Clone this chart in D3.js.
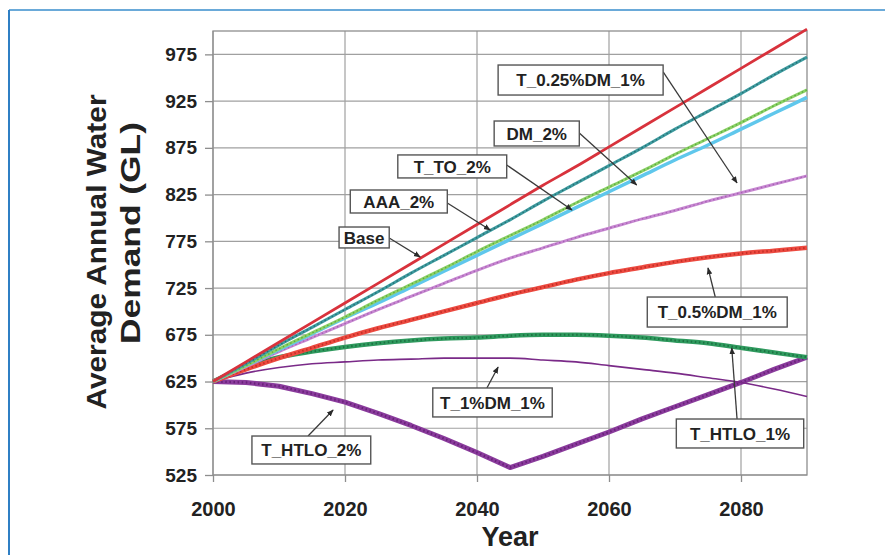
<!DOCTYPE html>
<html>
<head>
<meta charset="utf-8">
<script src="https://cdn.jsdelivr.net/npm/d3@7"></script>
<style>
body { margin: 0; background: #fff; }
svg { display: block; font-family: "Liberation Sans", Arial, sans-serif; }
</style>
</head>
<body>
<div class="chart"></div>
<script>
const WIDTH = 885;
const HEIGHT = 555;
const LEFT = 213, RIGHT = 807, TOP = 31, BOTTOM = 475;

// data (GL per year)
const years = [2000, 2005, 2010, 2015, 2020, 2025, 2030, 2035, 2040, 2045,
               2050, 2055, 2060, 2065, 2070, 2075, 2080, 2085, 2090];

const base     = [625, 646, 667, 688, 709, 730, 751, 772, 793, 814, 835, 855, 876, 897, 918, 939, 960, 981, 1002];
const aaa2     = [625, 644, 664, 683, 702, 721, 741, 760, 779, 798, 818, 837, 856, 875, 895, 914, 933, 953, 972];
const dm2      = [625, 642, 660, 677, 694, 712, 729, 746, 764, 781, 798, 816, 833, 850, 868, 885, 902, 920, 937];
const tTo2     = [625, 642, 659, 676, 693, 709, 726, 743, 760, 777, 794, 811, 828, 845, 862, 878, 895, 912, 929];
const t025dm1  = [625, 641, 657, 672, 687, 702, 716, 730, 744, 757, 768, 779, 789, 799, 808, 818, 827, 836, 845];
const t05dm1   = [625, 638, 650, 661, 672, 682, 691, 700, 709, 718, 726, 734, 741, 747, 753, 758, 762, 765, 768];
const tHtlo1   = [625, 641, 651, 657, 662, 666, 669, 671, 672, 674, 675, 675, 674, 672, 669, 666, 661, 656, 651];
const t1dm1    = [625, 634, 640, 644, 646, 648, 649, 650, 650, 650, 648, 646, 642, 638, 634, 629, 624, 617, 609];
const tHtlo2   = [625, 624, 620, 612, 603, 591, 578, 564, 549, 533, 545, 558, 571, 585, 598, 611, 624, 638, 651];

const yTicks = [525, 575, 625, 675, 725, 775, 825, 875, 925, 975];
const xTicks = [2000, 2020, 2040, 2060, 2080];

// drawing order = back to front
const series = [
	{name: "T_HTLO_2%",     values: tHtlo2,  color: "#8a3b9c", width: 5,   dots: "#5e1a6e", curve: d3.curveLinear},
	{name: "T_1%DM_1%",     values: t1dm1,   color: "#7a2a88", width: 1.6},
	{name: "T_HTLO_1%",     values: tHtlo1,  color: "#2f9a5e", width: 4.5, dots: "#17653a"},
	{name: "T_0.5%DM_1%",   values: t05dm1,  color: "#ec4a40", width: 4.5, dots: "#b8261f"},
	{name: "T_0.25%DM_1%",  values: t025dm1, color: "#c888d2", width: 3,   dots: "#9a55a8"},
	{name: "T_TO_2%",       values: tTo2,    color: "#5fc7ec", width: 3.5},
	{name: "DM_2%",         values: dm2,     color: "#8cd266", width: 3,   dots: "#4a9a36"},
	{name: "AAA_2%",        values: aaa2,    color: "#3e9ca0", width: 3,   dots: "#1d5e62"},
	{name: "Base",          values: base,    color: "#d8323c", width: 2.8}
];

// annotation boxes: box [year0, value0, year1, value1], arrow from / to [year, value]
const notes = [
	{text: "T_0.25%DM_1%", box: [2043.2, 963.6, 2068.2, 931.5], from: [2068.2, 956.2], to: [2079.4, 837.4]},
	{text: "DM_2%",        box: [2042.6, 903.7, 2055.5, 877.0], from: [2055.5, 890.9], to: [2064.2, 835.3]},
	{text: "T_TO_2%",      box: [2028.0, 867.4, 2044.5, 842.8], from: [2044.5, 856.7], to: [2054.4, 808.5]},
	{text: "AAA_2%",       box: [2020.8, 829.9, 2035.5, 805.3], from: [2035.5, 816.0], to: [2042.0, 787.1]},
	{text: "Base",         box: [2019.1, 790.3, 2026.7, 767.9], from: [2026.7, 778.6], to: [2031.4, 758.2]},
	{text: "T_0.5%DM_1%",  box: [2065.8, 715.4, 2087.0, 683.3], from: [2076.1, 715.4], to: [2075.0, 746.5]},
	{text: "T_HTLO_1%",    box: [2070.2, 584.9, 2089.5, 553.9], from: [2079.4, 584.9], to: [2078.6, 660.9]},
	{text: "T_1%DM_1%",    box: [2033.3, 618.1, 2051.4, 587.1], from: [2041.5, 618.1], to: [2043.2, 640.5]},
	{text: "T_HTLO_2%",    box: [2005.9, 566.7, 2023.9, 536.8], from: [2014.4, 566.7], to: [2018.2, 594.5]}
];

var translate = function(x, y){
	return "translate(" + x + "," + y + ")";
};

var svg = d3.select(".chart").append("svg")
	.attr("width", WIDTH)
	.attr("height", HEIGHT);

// page frame
svg.append("line").attr("x1", 9).attr("y1", 10).attr("x2", WIDTH).attr("y2", 10)
	.attr("stroke", "#6aaad9").attr("stroke-width", 2);
svg.append("line").attr("x1", 9).attr("y1", 10).attr("x2", 9).attr("y2", HEIGHT)
	.attr("stroke", "#2f7fc4").attr("stroke-width", 2);

var x = d3.scaleLinear().domain([2000, 2090]).range([LEFT, RIGHT]);
var y = d3.scaleLinear().domain([525, 1000]).range([BOTTOM, TOP]);

svg.append("defs").append("marker")
	.attr("id", "arrow")
	.attr("viewBox", "0 0 10 10")
	.attr("refX", 9).attr("refY", 5)
	.attr("markerWidth", 7).attr("markerHeight", 7)
	.attr("markerUnits", "userSpaceOnUse")
	.attr("orient", "auto")
	.append("path").attr("d", "M0,1 L10,5 L0,9 Z").attr("fill", "#2a2a2a");

// grid
var grid = svg.append("g").attr("stroke", "#a0a0a0").attr("stroke-width", 1.2);
grid.selectAll(".gy").data(yTicks).join("line")
	.attr("x1", LEFT).attr("x2", RIGHT)
	.attr("y1", function(d){ return y(d); }).attr("y2", function(d){ return y(d); });
grid.selectAll(".gx").data(xTicks).join("line")
	.attr("y1", TOP).attr("y2", BOTTOM)
	.attr("x1", function(d){ return x(d); }).attr("x2", function(d){ return x(d); });

svg.append("rect")
	.attr("x", LEFT).attr("y", TOP)
	.attr("width", RIGHT - LEFT).attr("height", BOTTOM - TOP)
	.attr("fill", "none").attr("stroke", "#8e8e8e").attr("stroke-width", 1.3);

// axes
var yAxis = d3.axisLeft(y).tickValues(yTicks).tickSize(8).tickPadding(8).tickFormat(d3.format("d"));
svg.append("g")
	.attr("transform", translate(LEFT, 0))
	.call(yAxis)
	.call(function(g){ g.select(".domain").remove(); })
	.call(function(g){ g.selectAll(".tick line").attr("stroke", "#8e8e8e").attr("stroke-width", 1.3); })
	.call(function(g){ g.selectAll(".tick text").attr("fill", "#222").style("font-size", "19px").style("font-weight", "bold"); });

var xAxis = d3.axisBottom(x).tickValues(xTicks).tickSize(7).tickPadding(20).tickFormat(d3.format("d"));
svg.append("g")
	.attr("transform", translate(0, BOTTOM))
	.call(xAxis)
	.call(function(g){ g.select(".domain").remove(); })
	.call(function(g){ g.selectAll(".tick line").attr("stroke", "#8e8e8e").attr("stroke-width", 1.3); })
	.call(function(g){ g.selectAll(".tick text").attr("fill", "#222").style("font-size", "20px").style("font-weight", "bold"); });

// axis titles
svg.append("text")
	.attr("transform", translate(106, 252) + " rotate(-90)")
	.attr("text-anchor", "middle")
	.attr("textLength", 315).attr("lengthAdjust", "spacingAndGlyphs")
	.style("font-size", "27px").style("font-weight", "bold").attr("fill", "#222")
	.text("Average Annual Water");
svg.append("text")
	.attr("transform", translate(140, 233) + " rotate(-90)")
	.attr("text-anchor", "middle")
	.attr("textLength", 222).attr("lengthAdjust", "spacingAndGlyphs")
	.style("font-size", "27px").style("font-weight", "bold").attr("fill", "#222")
	.text("Demand (GL)");
svg.append("text")
	.attr("x", (LEFT + RIGHT) / 2).attr("y", 546)
	.attr("text-anchor", "middle")
	.style("font-size", "27px").style("font-weight", "bold").attr("fill", "#222")
	.text("Year");

// series
var plot = svg.append("g");
series.forEach(function(s){
	var line = d3.line()
		.x(function(d, i){ return x(years[i]); })
		.y(function(d){ return y(d); })
		.curve(s.curve || d3.curveMonotoneX);
	plot.append("path")
		.attr("d", line(s.values))
		.attr("fill", "none")
		.attr("stroke", s.color)
		.attr("stroke-width", s.width)
		.attr("stroke-linejoin", "round");
	if (s.dots) {
		plot.append("path")
			.attr("d", line(s.values))
			.attr("fill", "none")
			.attr("stroke", s.dots)
			.attr("stroke-width", Math.max(1.2, s.width * 0.45))
			.attr("stroke-dasharray", "1.5,2.6")
			.attr("opacity", 0.75);
	}
});

// annotations
var ann = svg.append("g");
notes.forEach(function(n){
	ann.append("line")
		.attr("x1", x(n.from[0])).attr("y1", y(n.from[1]))
		.attr("x2", x(n.to[0])).attr("y2", y(n.to[1]))
		.attr("stroke", "#3a3a3a").attr("stroke-width", 1.3)
		.attr("marker-end", "url(#arrow)");
});
notes.forEach(function(n){
	var x0 = x(n.box[0]), y0 = y(n.box[1]), x1 = x(n.box[2]), y1 = y(n.box[3]);
	ann.append("rect")
		.attr("x", x0).attr("y", y0)
		.attr("width", x1 - x0).attr("height", y1 - y0)
		.attr("fill", "#fff").attr("stroke", "#555").attr("stroke-width", 1.4);
	ann.append("text")
		.attr("x", (x0 + x1) / 2).attr("y", (y0 + y1) / 2)
		.attr("dy", "0.36em")
		.attr("text-anchor", "middle")
		.style("font-size", "17px").style("font-weight", "bold").attr("fill", "#222")
		.text(n.text);
});
</script>
</body>
</html>
